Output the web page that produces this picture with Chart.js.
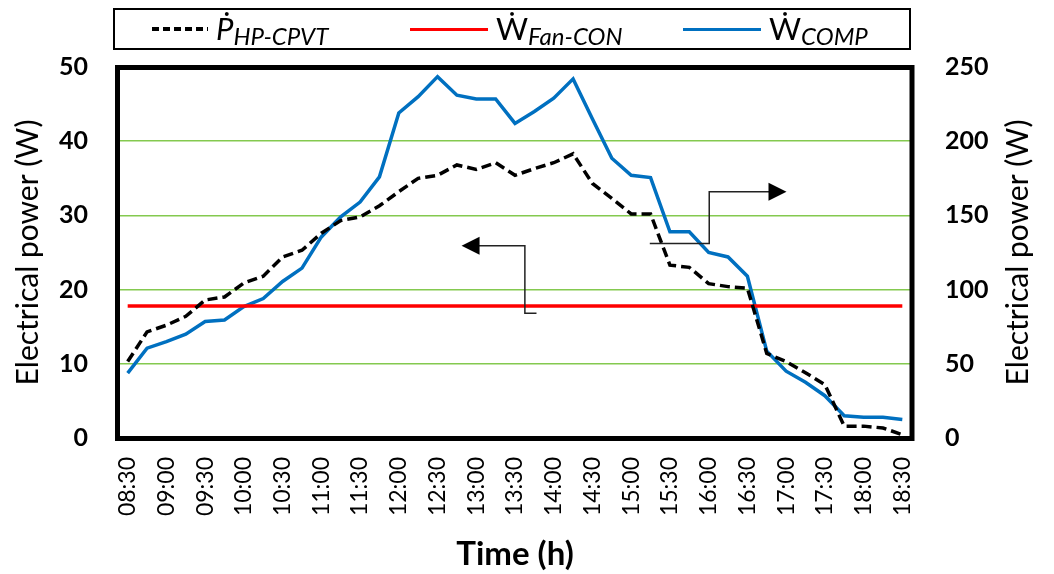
<!DOCTYPE html>
<html>
<head>
<meta charset="utf-8">
<script src="https://cdn.jsdelivr.net/npm/chart.js@4.4.1/dist/chart.umd.min.js"></script>
<style>
body { margin: 0; background: #fff; }
#wrap { position: relative; width: 1054px; height: 574px; }
#legend { position: absolute; left: 113px; top: 8px; width: 794px; height: 38px; border: 2px solid #000; font-family: Lato, 'Noto Sans', sans-serif; color: #000; }
.item { position: absolute; top: 0; height: 38px; display: flex; align-items: center; white-space: nowrap; }
.sample { height: 3px; margin-right: 8px; }
.sym { font-size: 31px; position: relative; top: -1px; }
.sub { font-size: 24px; font-style: italic; position: relative; top: 6px; }
</style>
</head>
<body>
<div id="wrap">
  <canvas id="canvas" width="1054" height="574"></canvas>
  <div id="legend">
    <div class="item" style="left:37px">
      <div class="sample" style="width:56px;height:3.5px;background:repeating-linear-gradient(90deg,#000 0 7px,transparent 7px 11px)"></div>
      <span class="sym" style="font-style:italic">Ṗ</span><span class="sub">HP-CPVT</span>
    </div>
    <div class="item" style="left:295px">
      <div class="sample" style="width:78px;background:#ff0000"></div>
      <span class="sym">Ẇ</span><span class="sub">Fan-CON</span>
    </div>
    <div class="item" style="left:568px">
      <div class="sample" style="width:78px;background:#0070c0"></div>
      <span class="sym">Ẇ</span><span class="sub">COMP</span>
    </div>
  </div>
</div>
<script>
// x categories, every 15 min (ticks shown every 30 min)
const timeLabels = ['08:30','08:45','09:00','09:15','09:30','09:45','10:00','10:15','10:30','10:45',
    '11:00','11:15','11:30','11:45','12:00','12:15','12:30','12:45','13:00','13:15',
    '13:30','13:45','14:00','14:15','14:30','14:45','15:00','15:15','15:30','15:45',
    '16:00','16:15','16:30','16:45','17:00','17:15','17:30','17:45','18:00','18:15','18:30'];

// left axis (W)
const pHpCpvt = [10.3, 14.3, 15.2, 16.4, 18.6, 19.0, 20.9, 21.8, 24.4, 25.3,
    27.6, 29.3, 29.8, 31.3, 33.2, 35.0, 35.4, 36.8, 36.2, 37.1,
    35.4, 36.3, 37.1, 38.3, 34.3, 32.3, 30.2, 30.2, 23.3, 23.0,
    20.8, 20.4, 20.2, 11.4, 10.3, 8.8, 7.2, 1.6, 1.6, 1.35, 0.45];
const wFanCon = [17.8, 17.8, 17.8, 17.8, 17.8, 17.8, 17.8, 17.8, 17.8, 17.8,
    17.8, 17.8, 17.8, 17.8, 17.8, 17.8, 17.8, 17.8, 17.8, 17.8,
    17.8, 17.8, 17.8, 17.8, 17.8, 17.8, 17.8, 17.8, 17.8, 17.8,
    17.8, 17.8, 17.8, 17.8, 17.8, 17.8, 17.8, 17.8, 17.8, 17.8, 17.8];

// right axis (W)
const wComp = [43.7, 60.5, 65, 70, 78.5, 79.5, 88.5, 94, 105.5, 114.5,
    135.5, 149, 159, 176, 219, 230, 243.5, 231, 228.5, 228.5,
    212, 220, 229, 242, 215, 188.5, 177, 175.5, 139, 139,
    125, 122, 109, 58.5, 45, 37.5, 28.5, 15, 14, 14, 12.5];

// arrows: [category index, left-axis value]
const leftArrow = [[21.11, 16.8], [20.51, 16.8], [20.51, 25.9], [17.24, 25.9]];
const rightArrow = [[26.96, 26.2], [30.03, 26.2], [30.03, 33.2], [34.02, 33.2]];

const FONT = "Lato, 'Noto Sans', sans-serif";
const GREEN = '#84c94f';

const framePlugin = {
    id: 'frame',
    afterDatasetsDraw(chart) {
        const c = chart.ctx;
        const a = chart.chartArea;
        const x = chart.scales.x, y = chart.scales.y;

        // arrows
        c.save();
        c.strokeStyle = '#222';
        c.fillStyle = '#000';
        c.lineWidth = 1.5;
        [leftArrow, rightArrow].forEach(pts => {
            const p = pts.map(q => [x.getPixelForValue(q[0]), y.getPixelForValue(q[1])]);
            const tip = p[p.length - 1], prev = p[p.length - 2];
            const dir = Math.sign(tip[0] - prev[0]);
            c.beginPath();
            c.moveTo(p[0][0], p[0][1]);
            for (let i = 1; i < p.length - 1; i++) c.lineTo(p[i][0], p[i][1]);
            c.lineTo(tip[0] - dir * 16, tip[1]);
            c.stroke();
            c.beginPath();
            c.moveTo(tip[0], tip[1]);
            c.lineTo(tip[0] - dir * 18, tip[1] - 9);
            c.lineTo(tip[0] - dir * 18, tip[1] + 9);
            c.closePath();
            c.fill();
        });

        // thick plot border
        c.strokeStyle = '#000';
        c.lineWidth = 5;
        c.strokeRect(a.left - 0.5, a.top + 0.5, a.right - a.left + 0.5, a.bottom - a.top);

        // right axis title (reads bottom to top)
        c.font = '30px ' + FONT;
        c.fillStyle = '#000';
        c.textAlign = 'center';
        c.textBaseline = 'middle';
        c.translate(1018, (a.top + a.bottom) / 2);
        c.rotate(-Math.PI / 2);
        c.fillText('Electrical power (W)', 0, 0);
        c.restore();
    }
};

let ctx = document.getElementById('canvas').getContext('2d');
let chart = new Chart(ctx, {
    type: 'line',
    data: {
        labels: timeLabels,
        datasets: [
            {
                label: 'P HP-CPVT',
                data: pHpCpvt,
                yAxisID: 'y',
                borderColor: '#000',
                borderWidth: 3.5,
                borderDash: [10, 5],
                pointRadius: 0,
                tension: 0
            },
            {
                label: 'W Fan-CON',
                data: wFanCon,
                yAxisID: 'y',
                borderColor: '#ff0000',
                borderWidth: 3.5,
                pointRadius: 0,
                tension: 0
            },
            {
                label: 'W COMP',
                data: wComp,
                yAxisID: 'y1',
                borderColor: '#0070c0',
                borderWidth: 3.5,
                pointRadius: 0,
                tension: 0
            }
        ]
    },
    options: {
        responsive: false,
        animation: false,
        layout: { padding: { top: 67, left: 0, right: 0, bottom: 0 } },
        plugins: { legend: { display: false }, tooltip: { enabled: false } },
        scales: {
            x: {
                offset: true,
                grid: { display: false, drawTicks: false },
                border: { display: false },
                ticks: {
                    autoSkip: false,
                    minRotation: 90,
                    maxRotation: 90,
                    padding: 19,
                    color: '#000',
                    font: { family: FONT, size: 23 },
                    callback: function (val, idx) { return idx % 2 === 0 ? this.getLabelForValue(val) : ''; }
                },
                title: {
                    display: true,
                    text: 'Time (h)',
                    color: '#000',
                    padding: { top: 0, bottom: 0 },
                    font: { family: FONT, size: 33, weight: 'bold', lineHeight: 1.2 }
                },
                afterFit: s => { s.height = 136; }
            },
            y: {
                position: 'left',
                min: 0,
                max: 50,
                ticks: { stepSize: 10, padding: 30, color: '#000', font: { family: FONT, size: 25, weight: 'bold' } },
                grid: {
                    drawTicks: false,
                    lineWidth: 1.5,
                    color: c => (c.tick.value === 0 || c.tick.value === 50) ? 'rgba(0,0,0,0)' : GREEN
                },
                border: { display: false },
                title: {
                    display: true,
                    text: 'Electrical power (W)',
                    color: '#000',
                    padding: { top: 10, bottom: 0 },
                    font: { family: FONT, size: 30, lineHeight: 1.2 }
                },
                afterFit: s => { s.width = 118; }
            },
            y1: {
                position: 'right',
                min: 0,
                max: 250,
                ticks: { stepSize: 50, padding: 33, color: '#000', font: { family: FONT, size: 25, weight: 'bold' } },
                grid: { display: false, drawTicks: false },
                border: { display: false },
                afterFit: s => { s.width = 142; }
            }
        }
    },
    plugins: [framePlugin]
});
</script>
</body>
</html>
